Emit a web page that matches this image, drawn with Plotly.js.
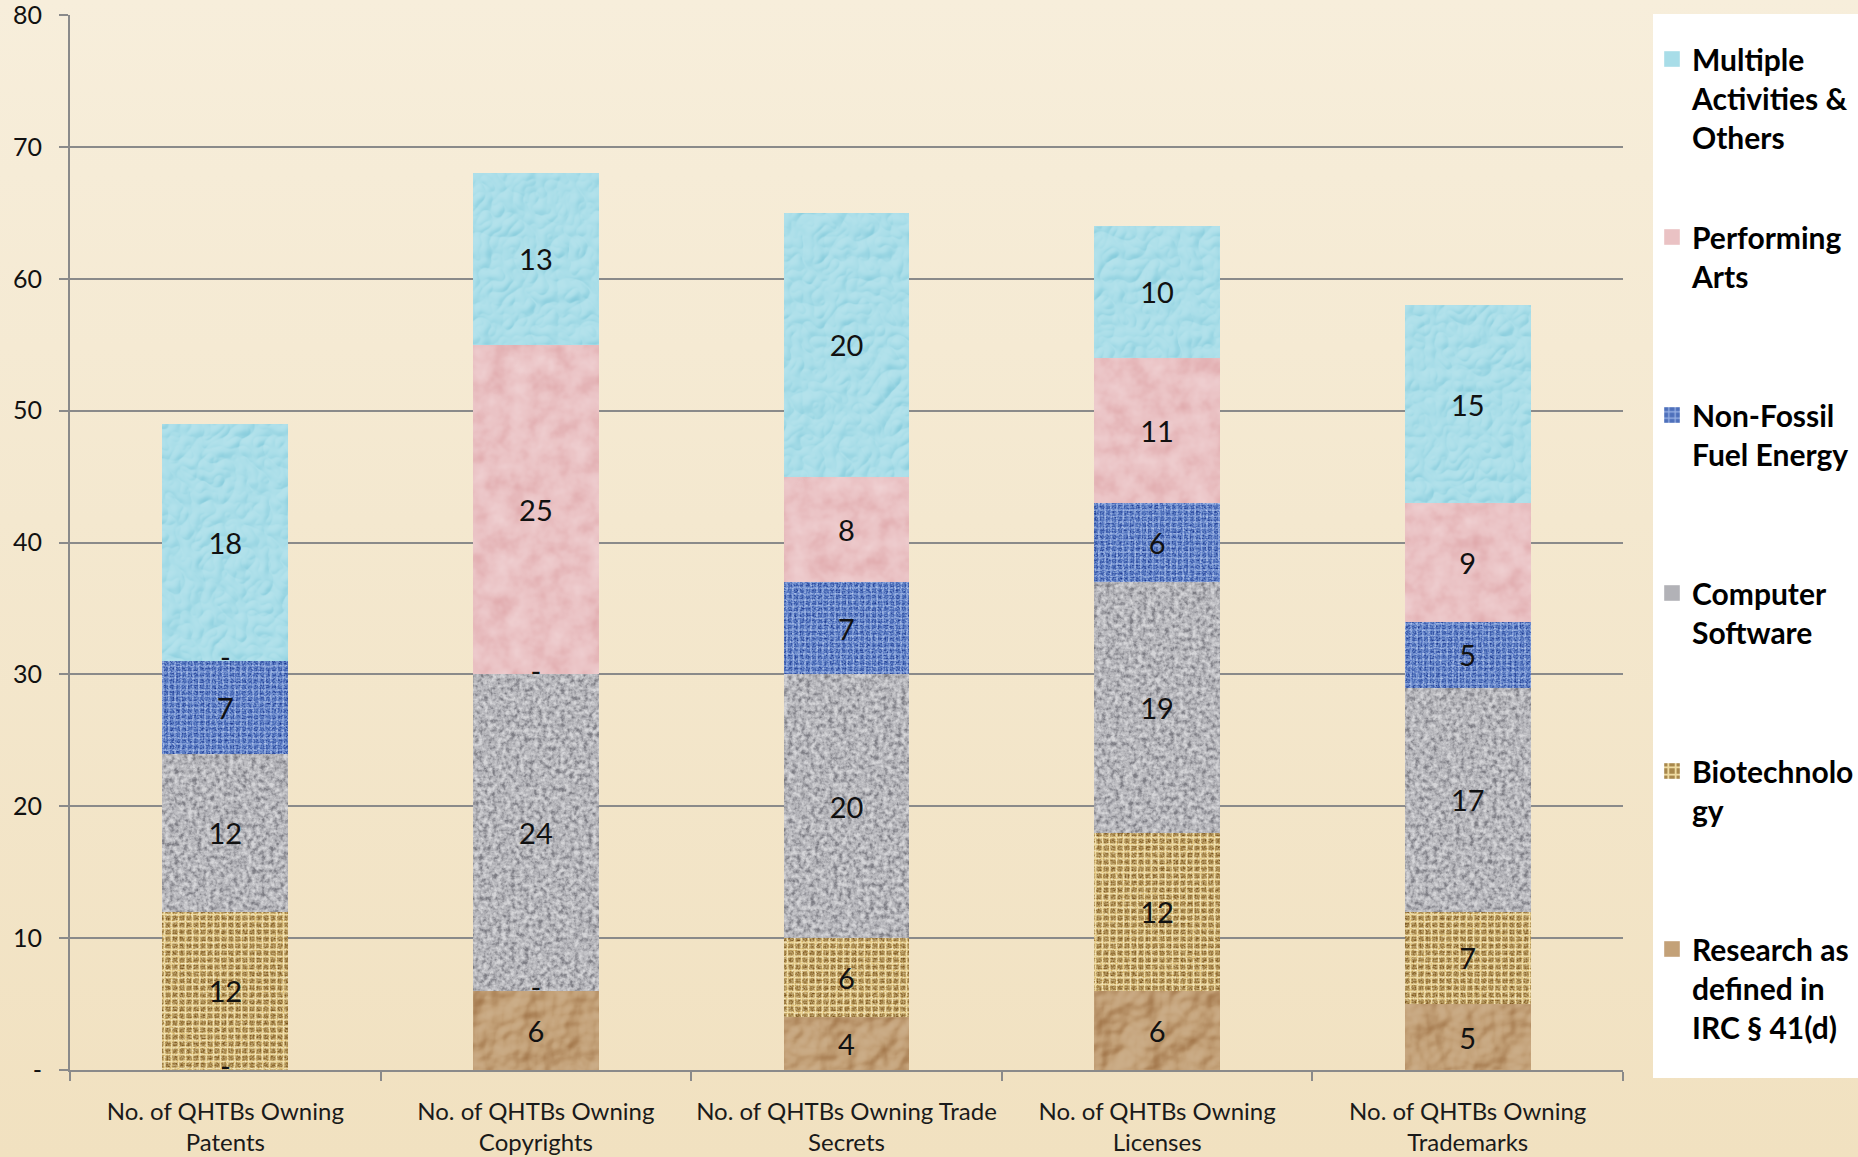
<!DOCTYPE html>
<html>
<head>
<meta charset="utf-8">
<script src="https://cdn.plot.ly/plotly-3.0.1.min.js"></script>
<style>
html,body{margin:0;padding:0;background:#f3e7cb;}
#chart{width:1858px;height:1157px;background:linear-gradient(180deg,#f7eedb 0%,#f4e8cf 45%,#f1e1c0 100%);}
.barlayer .trace:nth-child(1) .point path{filter:url(#fPaper);}
.barlayer .trace:nth-child(2) .point path{filter:url(#fGrainSoft);}
.barlayer .trace:nth-child(3) .point path{filter:url(#fGranite);}
.barlayer .trace:nth-child(4) .point path{filter:url(#fGrainSoft);}
.barlayer .trace:nth-child(5) .point path{filter:url(#fBlotch);}
.barlayer .trace:nth-child(6) .point path{filter:url(#fDrops);}
.legend .legendpoints path{transform:translate(20px,0px) scale(1.3);}
</style>
</head>
<body>
<svg width="0" height="0" style="position:absolute">
<defs>
  <filter id="fPaper" x="0%" y="0%" width="100%" height="100%" color-interpolation-filters="sRGB">
    <feTurbulence type="fractalNoise" baseFrequency="0.03" numOctaves="3" seed="11" result="n"/>
    <feDiffuseLighting in="n" surfaceScale="8" lighting-color="#ffffff" result="l">
      <feDistantLight azimuth="225" elevation="50"/>
    </feDiffuseLighting>
    <feComponentTransfer in="l" result="lc">
      <feFuncR type="linear" slope="0.65" intercept="0"/>
      <feFuncG type="linear" slope="0.65" intercept="0"/>
      <feFuncB type="linear" slope="0.65" intercept="0"/>
    </feComponentTransfer>
    <feBlend in="lc" in2="SourceGraphic" mode="soft-light" result="b"/>
    <feComposite in="b" in2="SourceGraphic" operator="in"/>
  </filter>
  <filter id="fGrainSoft" x="0%" y="0%" width="100%" height="100%" color-interpolation-filters="sRGB">
    <feTurbulence type="fractalNoise" baseFrequency="0.6" numOctaves="2" seed="3" result="n"/>
    <feColorMatrix in="n" type="saturate" values="0" result="g"/>
    <feComponentTransfer in="g" result="gc">
      <feFuncR type="linear" slope="1.8" intercept="-0.4"/>
      <feFuncG type="linear" slope="1.8" intercept="-0.4"/>
      <feFuncB type="linear" slope="1.8" intercept="-0.4"/>
      <feFuncA type="linear" slope="0" intercept="1"/>
    </feComponentTransfer>
    <feBlend in="gc" in2="SourceGraphic" mode="soft-light" result="b"/>
    <feComposite in="b" in2="SourceGraphic" operator="in"/>
  </filter>
  <filter id="fGranite" x="0%" y="0%" width="100%" height="100%" color-interpolation-filters="sRGB">
    <feTurbulence type="fractalNoise" baseFrequency="0.22" numOctaves="3" seed="5" result="n"/>
    <feColorMatrix in="n" type="saturate" values="0" result="g"/>
    <feComponentTransfer in="g" result="gc">
      <feFuncR type="linear" slope="2.4" intercept="-0.65"/>
      <feFuncG type="linear" slope="2.4" intercept="-0.65"/>
      <feFuncB type="linear" slope="2.4" intercept="-0.65"/>
      <feFuncA type="linear" slope="0" intercept="1"/>
    </feComponentTransfer>
    <feBlend in="gc" in2="SourceGraphic" mode="soft-light" result="b"/>
    <feComposite in="b" in2="SourceGraphic" operator="in"/>
  </filter>
  <filter id="fBlotch" x="0%" y="0%" width="100%" height="100%" color-interpolation-filters="sRGB">
    <feTurbulence type="fractalNoise" baseFrequency="0.05" numOctaves="3" seed="9" result="n"/>
    <feColorMatrix in="n" type="saturate" values="0" result="g"/>
    <feComponentTransfer in="g" result="gc">
      <feFuncR type="linear" slope="0.8" intercept="0.1"/>
      <feFuncG type="linear" slope="0.8" intercept="0.1"/>
      <feFuncB type="linear" slope="0.8" intercept="0.1"/>
      <feFuncA type="linear" slope="0" intercept="1"/>
    </feComponentTransfer>
    <feBlend in="gc" in2="SourceGraphic" mode="soft-light" result="b"/>
    <feComposite in="b" in2="SourceGraphic" operator="in"/>
  </filter>
  <filter id="fDrops" x="0%" y="0%" width="100%" height="100%" color-interpolation-filters="sRGB">
    <feTurbulence type="turbulence" baseFrequency="0.045" numOctaves="2" seed="7" result="n"/>
    <feDiffuseLighting in="n" surfaceScale="3" lighting-color="#ffffff" result="l">
      <feDistantLight azimuth="235" elevation="55"/>
    </feDiffuseLighting>
    <feComponentTransfer in="l" result="lc">
      <feFuncR type="linear" slope="0.66" intercept="0"/>
      <feFuncG type="linear" slope="0.66" intercept="0"/>
      <feFuncB type="linear" slope="0.66" intercept="0"/>
    </feComponentTransfer>
    <feBlend in="lc" in2="SourceGraphic" mode="soft-light" result="b"/>
    <feComposite in="b" in2="SourceGraphic" operator="in"/>
  </filter>
</defs>
</svg>
<div id="chart"></div>
<script>
const categories = [
  "No. of QHTBs Owning<br>Patents",
  "No. of QHTBs Owning<br>Copyrights",
  "No. of QHTBs Owning Trade<br>Secrets",
  "No. of QHTBs Owning<br>Licenses",
  "No. of QHTBs Owning<br>Trademarks"
];
const seriesNames = [
  "Research as<br>defined in<br>IRC § 41(d)",
  "Biotechnolo<br>gy",
  "Computer<br>Software",
  "Non-Fossil<br>Fuel Energy",
  "Performing<br>Arts",
  "Multiple<br>Activities &<br>Others"
];
const research    = [0, 6, 4, 6, 5];
const biotech     = [12, 0, 6, 12, 7];
const software    = [12, 24, 20, 19, 17];
const nonFossil   = [7, 0, 7, 6, 5];
const performing  = [0, 25, 8, 11, 9];
const multiple    = [18, 13, 20, 10, 15];
const yTickVals   = [0, 10, 20, 30, 40, 50, 60, 70, 80];
const yTickText   = ["-", "10", "20", "30", "40", "50", "60", "70", "80"];

const seriesValues = [research, biotech, software, nonFossil, performing, multiple];
const styles = [
  {bg:"#c3a178", fg:"#c3a178", shape:"", size:14, sol:0.25},
  {bg:"#a8884c", fg:"#efdba2", shape:"+", size:7, sol:0.45},
  {bg:"#b2b2b7", fg:"#b2b2b7", shape:"", size:6, sol:0.35},
  {bg:"#4e70bb", fg:"#9ab3e6", shape:"+", size:6, sol:0.35},
  {bg:"#eac2c4", fg:"#eac2c4", shape:"", size:10, sol:0.3},
  {bg:"#a8dde8", fg:"#a8dde8", shape:"", size:18, sol:0.4}
];

const labelFont = "Lato, Arial, sans-serif";
const traces = [];
const zeroX = [], zeroY = [];
const cum = categories.map(() => 0);
seriesValues.forEach((vals, s) => {
  const st = styles[s];
  vals.forEach((v, i) => {
    if (v === 0) { zeroX.push(categories[i]); zeroY.push(cum[i]); }
    cum[i] += v;
  });
  const lines = seriesNames[s].split("<br>");
  while (lines.length < 3) lines.push("\u00a0");
  const marker = {color: st.bg, line: {width: 0}};
  if (st.shape) {
    marker.pattern = {shape: st.shape, bgcolor: st.bg, fgcolor: st.fg, size: st.size, solidity: st.sol, fillmode: "replace"};
  }
  traces.push({
    type: "bar",
    name: lines.join("<br>"),
    legendgroup: "g" + s,
    legendrank: seriesValues.length - s,
    x: categories,
    y: vals,
    text: vals.map(v => v === 0 ? "" : String(v)),
    textposition: "inside",
    insidetextanchor: "middle",
    constraintext: "none",
    textangle: 0,
    textfont: {family: labelFont, size: 29, color: "#111"},
    hoverinfo: "x+y+name",
    marker: marker
  });
});
traces.push({
  type: "scatter",
  mode: "text",
  x: zeroX,
  y: zeroY,
  text: zeroX.map(() => "-"),
  textfont: {family: labelFont, size: 29, color: "#111"},
  showlegend: false,
  cliponaxis: false,
  hoverinfo: "skip"
});

const plotL = 70, plotR = 1623, plotT = 15, plotB = 1070;
const W = 1858, H = 1157;
const pw = plotR - plotL, ph = plotB - plotT;

const layout = {
  width: W, height: H,
  margin: {l: plotL, r: W - plotR, t: plotT, b: H - plotB, pad: 0, autoexpand: false},
  paper_bgcolor: "rgba(0,0,0,0)",
  plot_bgcolor: "rgba(0,0,0,0)",
  barmode: "stack",
  bargap: 0.595,
  showlegend: true,
  font: {family: labelFont, color: "#111"},
  xaxis: {
    type: "category",
    tickson: "boundaries",
    ticks: "outside",
    ticklen: 9,
    tickwidth: 2,
    tickcolor: "#8a8a8a",
    showline: true,
    linecolor: "#8a8a8a",
    linewidth: 2,
    showgrid: false,
    tickangle: 0,
    tickfont: {family: labelFont, size: 24, color: "#1a1a1a"},
    ticklabelstandoff: 19
  },
  yaxis: {
    range: [0, 80],
    tickvals: yTickVals,
    ticktext: yTickText,
    ticks: "outside",
    ticklen: 9,
    tickwidth: 2,
    tickcolor: "#8a8a8a",
    showline: true,
    linecolor: "#8a8a8a",
    linewidth: 2,
    showgrid: true,
    gridcolor: "#8a8a8a",
    gridwidth: 2,
    zeroline: false,
    ticklabeloverflow: "allow",
    tickfont: {family: labelFont, size: 25, color: "#111"},
    ticklabelstandoff: 12
  },
  legend: {
    x: (1652 - plotL) / pw,
    xanchor: "left",
    y: (plotB - 33) / ph,
    yanchor: "top",
    bgcolor: "rgba(0,0,0,0)",
    borderwidth: 0,
    traceorder: "grouped",
    tracegroupgap: 58,
    valign: "top",
    itemwidth: 30,
    font: {family: labelFont, size: 30, color: "#000", weight: "bold"}
  },
  shapes: [{
    type: "rect", xref: "paper", yref: "paper", layer: "below",
    x0: (1653 - plotL) / pw, x1: (1858 - plotL) / pw,
    y0: (plotB - 1078) / ph, y1: (plotB - 14) / ph,
    fillcolor: "#ffffff", line: {width: 0}
  }]
};

Plotly.newPlot("chart", traces, layout, {displayModeBar: false});
</script>
</body>
</html>
